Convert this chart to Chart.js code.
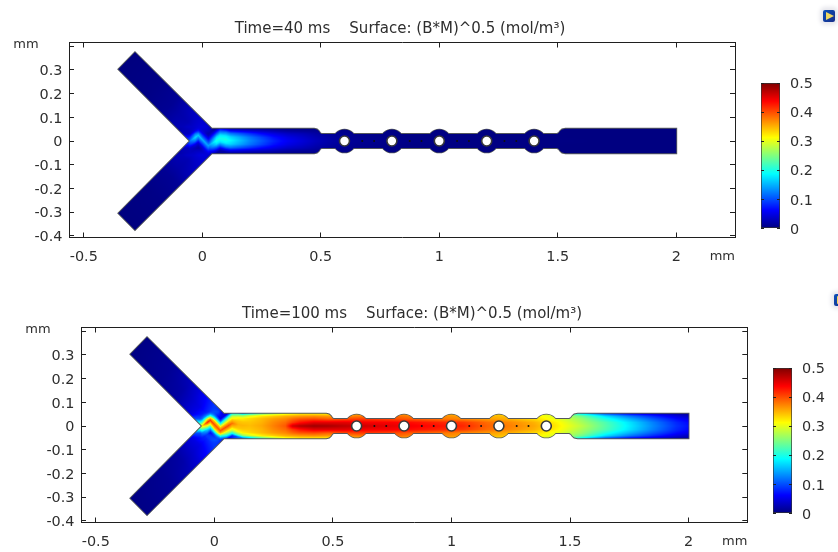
<!DOCTYPE html>
<html><head><meta charset="utf-8">
<script src="https://cdn.jsdelivr.net/npm/chart.js@4"></script>
<style>
html,body{margin:0;padding:0;background:#fff;width:838px;height:552px;overflow:hidden}
canvas{position:absolute;filter:blur(0.35px)}
.ico{position:absolute;width:12px;height:12px;border-radius:2px;background:linear-gradient(135deg,#0b4fb8,#1a2f8a);box-shadow:0 0 4px 3px #e6e6ec;filter:blur(0.7px)}
.ico:after{content:"";position:absolute;left:3px;top:2px;border-left:8px solid #f0d860;border-top:4px solid transparent;border-bottom:4px solid transparent}
</style></head><body>
<canvas id="p1" style="left:0;top:0"></canvas>
<canvas id="p2" style="left:0;top:285px"></canvas>
<canvas id="c1" style="left:745px;top:60px"></canvas>
<canvas id="c2" style="left:757px;top:345px"></canvas>
<div class="ico" style="left:823px;top:10px"></div>
<div class="ico" style="left:834px;top:294px"></div>
<script>
const title1 = 'Time=40 ms    Surface: (B*M)^0.5 (mol/m³)';
const title2 = 'Time=100 ms    Surface: (B*M)^0.5 (mol/m³)';
const xTicks = [-0.5, 0, 0.5, 1, 1.5, 2];
const yTicks = [-0.4, -0.3, -0.2, -0.1, 0, 0.1, 0.2, 0.3, 0.4];
const barTicks = [0, 0.1, 0.2, 0.3, 0.4, 0.5];

// channel outline (mm)
const outlineX = [-0.052,-0.354,-0.284,0.04,0.472,0.484,0.492,0.497,0.503,0.6,1.4,1.497,1.504,1.51,1.518,1.532,2,2,1.532,1.518,1.51,1.504,1.497,1.4,0.6,0.503,0.497,0.492,0.484,0.472,0.04,-0.284,-0.354,-0.052];
const outlineY = [0,0.303,0.3745,0.052,0.052,0.049,0.042,0.034,0.03,0.03,0.03,0.03,0.034,0.042,0.049,0.052,0.052,-0.052,-0.052,-0.049,-0.042,-0.034,-0.03,-0.03,-0.03,-0.03,-0.034,-0.042,-0.049,-0.052,-0.052,-0.376,-0.305,0];
const holeX = [0.6, 0.8, 1, 1.2, 1.4];
const dotX = [0.675, 0.725, 0.875, 0.925, 1.075, 1.125, 1.275, 1.325];

// field nodes along the main channel
const stationX = [-0.06,-0.03,0,0.03,0.06,0.1,0.15,0.2,0.25,0.3,0.33,0.36,0.42,0.48,0.55,0.65,0.75,0.85,0.95,1.05,1.15,1.25,1.35,1.45,1.55,1.65,1.75,1.85,1.95,2];
const crossY = [0, 0.015, 0.03, 0.042, 0.052];
const zigX = [-0.052,-0.017,0.025,0.075,0.12,0.3];
const zigY = [0,0.024,-0.02,0.011,0.002,0];

const t40r0 = [.10,.17,.15,.14,.20,.20,.165,.13,.105,.08,.068,.058,.044,.03,.018,.01,.006,.004,.003,.002,.002,.002,.002,.002,.002,.001,.001,.001,.001,.001];
const t40r1 = [.07,.12,.10,.10,.17,.18,.15,.12,.095,.07,.06,.05,.038,.025,.015,.008,.005,.003,.002,.002,.002,.002,.002,.002,.001,.001,.001,.001,.001,.001];
const t40r2 = [.03,.05,.05,.06,.10,.125,.105,.085,.065,.05,.042,.035,.028,.018,.01,.006,.004,.002,.002,.002,.001,.001,.001,.001,.001,.001,.001,.001,.001,.001];
const t40r3 = [.02,.03,.03,.03,.05,.06,.05,.04,.032,.025,.02,.016,.012,.01,.006,.004,.002,.002,.001,.001,.001,.001,.001,.001,.001,.001,.001,.001,.001,.001];
const t40r4 = [.01,.02,.02,.02,.015,.02,.018,.014,.012,.01,.008,.006,.005,.004,.003,.002,.001,.001,.001,.001,.001,.001,.001,.001,.001,.001,.001,.001,.001,.001];

const t100r0 = [.30,.42,.40,.40,.40,.35,.345,.355,.375,.395,.46,.475,.485,.48,.47,.46,.45,.44,.43,.42,.39,.375,.355,.32,.28,.23,.18,.13,.085,.07];
const t100r1 = [.20,.30,.34,.33,.34,.34,.34,.35,.37,.385,.41,.43,.45,.45,.45,.44,.44,.43,.42,.41,.385,.37,.35,.315,.27,.225,.175,.125,.08,.065];
const t100r2 = [.10,.17,.20,.20,.26,.31,.33,.345,.36,.37,.385,.395,.40,.39,.40,.41,.40,.39,.38,.37,.36,.35,.33,.30,.26,.20,.15,.105,.065,.05];
const t100r3 = [.08,.12,.10,.10,.16,.24,.29,.32,.335,.35,.355,.36,.365,.36,.37,.38,.39,.37,.37,.36,.35,.34,.32,.29,.24,.17,.12,.08,.045,.03];
const t100r4 = [.05,.08,.05,.04,.06,.11,.17,.23,.27,.30,.31,.32,.32,.32,.34,.36,.36,.35,.35,.34,.33,.33,.31,.28,.18,.10,.06,.04,.02,.015];

// field nodes along the side arms (distance along arm / position across arm)
const armU = [0,0.03,0.06,0.1,0.15,0.2,0.3,0.47];
const armV = [-0.037,0.014,0.065];
const t40a0 = [.10,.10,.06,.03,.02,.01,.003,0];
const t40a1 = [.09,.06,.04,.025,.02,.01,.004,0];
const t40a2 = [.04,.04,.04,.035,.025,.012,.004,0];
const t100a0 = [.30,.22,.12,.05,.03,.015,.008,.002];
const t100a1 = [.20,.15,.08,.05,.035,.02,.01,.003];
const t100a2 = [.04,.08,.09,.07,.045,.03,.012,.003];

const jetPos = [0,0.125,0.375,0.625,0.875,1];
const jetR = [0,0,0,255,255,127];
const jetG = [0,0,255,255,0,0];
const jetB = [127,255,255,0,0,0];
const barMax = 0.5;

function lerp1(xs, vs, x){
  if (x <= xs[0]) return vs[0];
  const n = xs.length-1;
  if (x >= xs[n]) return vs[n];
  let i = 0; while (x > xs[i+1]) i++;
  return vs[i] + (vs[i+1]-vs[i])*(x-xs[i])/(xs[i+1]-xs[i]);
}
function fieldAt(rows, arms, x, y){
  const cy = lerp1(zigX, zigY, x);
  const d = Math.abs(y-cy);
  const rowVals = rows.map(r => lerp1(stationX, r, x));
  const main = lerp1(crossY, rowVals, d);
  const k = Math.max(0, Math.min(1, (Math.abs(y)-0.03)/0.03)) * Math.max(0, Math.min(1, (0.05-x)/0.03));
  if (k <= 0) return main;
  const ay = Math.abs(y), u = (ay-x)/Math.SQRT2, v = (x+ay)/Math.SQRT2;
  const armVals = arms.map(r => lerp1(armU, r, u));
  return (1-k)*main + k*lerp1(armV, armVals, v);
}
function fieldPattern(ctx, rows, arms){
  const chart = ctx.chart;
  if (!chart.chartArea) return 'transparent';
  if (chart.$pat) return chart.$pat;
  const a = chart.chartArea, sx = chart.scales.x, sy = chart.scales.y;
  const off = document.createElement('canvas');
  off.width = chart.width; off.height = chart.height;
  const g = off.getContext('2d');
  const img = g.createImageData(off.width, off.height);
  for (let py = Math.floor(a.top); py < a.bottom; py++){
    const y = sy.getValueForPixel(py+0.5);
    if (Math.abs(y) > 0.39) continue;
    for (let px = Math.floor(a.left); px < a.right; px++){
      const x = sx.getValueForPixel(px+0.5);
      if (x < -0.37 || x > 2.01) continue;
      const t = fieldAt(rows, arms, x, y)/barMax, i = (py*off.width+px)*4;
      img.data[i] = lerp1(jetPos, jetR, t);
      img.data[i+1] = lerp1(jetPos, jetG, t);
      img.data[i+2] = lerp1(jetPos, jetB, t);
      img.data[i+3] = 255;
    }
  }
  g.putImageData(img, 0, 0);
  chart.$pat = chart.ctx.createPattern(off, 'no-repeat');
  return chart.$pat;
}
const ink = '#2e2e2e', edge = '#55585c';
const tickFont = {family:'"DejaVu Sans"', size:14.4};
const yMm = {
  id:'yMm',
  afterDraw(chart){
    const c = chart.ctx, a = chart.chartArea;
    c.save(); c.font = '13px "DejaVu Sans"'; c.fillStyle = ink;
    c.textAlign = 'center'; c.textBaseline = 'middle';
    c.fillText('mm', a.left-43, a.top+2.5); c.restore();
  }
};
function plot(id, title, rows, arms, cfg){
  const el = document.getElementById(id);
  el.width = cfg.w; el.height = 264;
  el.style.width = cfg.w+'px'; el.style.height = '264px';
  const poly = outlineX.map((x,i)=>({x, y:outlineY[i]}));
  const onAxis = xs => xs.map(x=>({x, y:0}));
  const pat = c => fieldPattern(c, rows, arms);
  const frame = {display:true, color:'#1f1f1f', width:1};
  const noGrid = len => ({drawOnChartArea:false, drawTicks:true, tickLength:len, color:'#1f1f1f'});
  const xSet = s => { s.ticks = xTicks.map(value=>({value})); };
  const ySet = s => { s.ticks = yTicks.map(value=>({value})); };
  new Chart(el, {
    type:'scatter',
    data:{datasets:[
      {label:'outline', type:'line', data:poly, borderColor:edge, borderWidth:1.8, pointRadius:0, fill:false, order:6},
      {label:'bulge edge', data:onAxis(holeX), pointRadius:11.6, borderWidth:1.4, pointBorderColor:edge, pointBackgroundColor:edge, order:5},
      {label:'channel', type:'line', data:poly, borderWidth:0, pointRadius:0, fill:'shape', backgroundColor:pat, order:4},
      {label:'bulges', data:onAxis(holeX), pointRadius:11.6, pointBorderWidth:0, pointBackgroundColor:pat, order:3},
      {label:'holes', data:onAxis(holeX), pointRadius:5, pointBorderWidth:1.6, pointBorderColor:'#3a3a3a', pointBackgroundColor:'#fff', order:2},
      {label:'posts', data:onAxis(dotX), pointRadius:1, pointBorderWidth:0, pointBackgroundColor:'#101010', order:1}
    ]},
    plugins:[yMm],
    options:{
      responsive:false, animation:false, events:[],
      layout:{padding:0},
      plugins:{
        legend:{display:false}, tooltip:{enabled:false},
        title:{display:true, text:title, color:ink, font:{family:'"DejaVu Sans"', size:15, weight:'normal', lineHeight:1.12}, padding:{top:20.5, bottom:5.2}}
      },
      scales:{
        x:{type:'linear', position:'bottom', min:-0.5624, max:2.2477, afterBuildTicks:xSet,
           afterFit:s=>{s.height=26.5},
           border:frame, grid:noGrid(-5),
           ticks:{color:ink, autoSkip:false, maxRotation:0, padding:16.5, font:tickFont, callback:v=>String(v)},
           title:{display:true, text:'mm', align:'end', color:ink, padding:0, font:{family:'"DejaVu Sans"', size:13}}},
        x2:{type:'linear', position:'top', min:-0.5624, max:2.2477, afterBuildTicks:xSet,
           afterFit:s=>{s.height=0},
           border:frame, grid:noGrid(-5), ticks:{display:false}},
        y:{type:'linear', position:'left', min:-0.4075, max:0.416, afterBuildTicks:ySet,
           afterFit:s=>{s.width=cfg.left},
           border:frame, grid:noGrid(-5),
           ticks:{color:ink, autoSkip:false, padding:11.5, labelOffset:1.5, font:tickFont,
                  callback:v=>Math.abs(v-0.4)<1e-6?'':String(v)}},
        y2:{type:'linear', position:'right', min:-0.4075, max:0.416, afterBuildTicks:ySet,
           afterFit:s=>{s.width=cfg.rightPad},
           border:frame, grid:noGrid(-5), ticks:{display:false}}
      }
    }
  });
}
function colorbar(id){
  const el = document.getElementById(id);
  el.width = 90; el.height = 190;
  el.style.width = '90px'; el.style.height = '190px';
  const bg = c => {
    const a = c.chart.chartArea; if (!a) return 'transparent';
    const g = c.chart.ctx.createLinearGradient(0, a.bottom, 0, a.top);
    jetPos.forEach((p,i)=>g.addColorStop(p, `rgb(${jetR[i]},${jetG[i]},${jetB[i]})`));
    return g;
  };
  const tk = s => { s.ticks = barTicks.map(value=>({value})); };
  new Chart(el, {
    type:'bar',
    data:{labels:['(B*M)^0.5'], datasets:[{label:'(B*M)^0.5', data:[[0,barMax]], backgroundColor:bg, borderColor:'#333', borderWidth:1, borderSkipped:false, barPercentage:1, categoryPercentage:1}]},
    options:{
      responsive:false, animation:false, events:[],
      layout:{padding:{left:16, top:23, bottom:19}},
      plugins:{legend:{display:false}, tooltip:{enabled:false}},
      scales:{
        x:{display:false},
        y:{position:'right', min:0, max:barMax, afterBuildTicks:tk, afterFit:s=>{s.width=55},
           border:{display:false}, grid:{z:1, drawOnChartArea:false, tickLength:-3, color:'#222'},
           ticks:{color:ink, padding:13, labelOffset:1.5, font:tickFont, callback:v=>String(+v.toFixed(1))}},
        yL:{position:'left', min:0, max:barMax, afterBuildTicks:tk, afterFit:s=>{s.width=0},
           border:{display:false}, grid:{z:1, drawOnChartArea:false, tickLength:-3, color:'#222'}, ticks:{display:false}}
      }
    }
  });
}
plot('p1', title1, [t40r0,t40r1,t40r2,t40r3,t40r4], [t40a0,t40a1,t40a2], {w:800, left:69, rightPad:65});
plot('p2', title2, [t100r0,t100r1,t100r2,t100r3,t100r4], [t100a0,t100a1,t100a2], {w:824, left:81, rightPad:76.7});
colorbar('c1'); colorbar('c2');
</script>
</body></html>
